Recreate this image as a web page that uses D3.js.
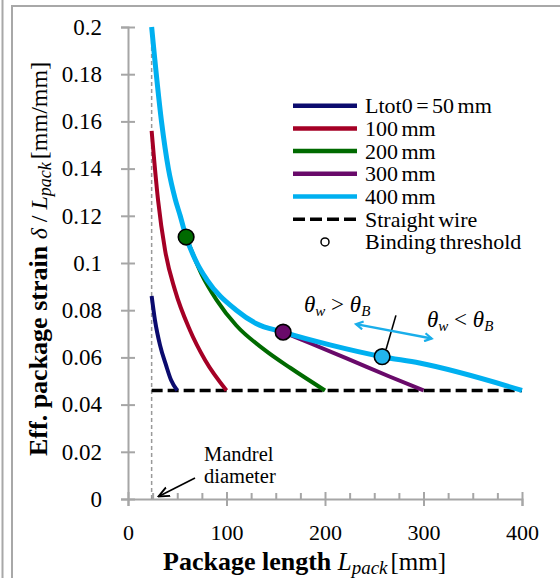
<!DOCTYPE html>
<html><head><meta charset="utf-8">
<script src="https://cdn.jsdelivr.net/npm/d3@7"></script>
<style>
html,body{margin:0;padding:0;background:#fff;}
svg{display:block;font-family:"Liberation Serif","Times New Roman",serif;}
</style></head><body>
<svg id="chart" width="560" height="578"></svg>
<script>
// Effective package strain (delta / L_pack) against package length, per total wire length Ltot0
const mandrelDiameter = 24;      // mm
const straightWireStrain = 0.046; // mm/mm

const len50 = [24, 27.4, 32.5, 38.6, 43.7, 50];
const strain50 = [0.086, 0.0757, 0.0652, 0.0567, 0.0504, 0.046];

const len100 = [24, 30.5, 37.6, 47.7, 62.9, 78.2, 100];
const strain100 = [0.156, 0.1267, 0.1055, 0.0885, 0.0715, 0.0589, 0.046];

const len200 = [59, 75, 90, 110, 139, 165, 200];
const strain200 = [0.111, 0.095, 0.0843, 0.0735, 0.0631, 0.0555, 0.046];

const len300 = [157.5, 185, 222, 266, 300];
const strain300 = [0.0707, 0.066, 0.0596, 0.0518, 0.046];

const len400 = [24, 34, 41, 48, 53, 59, 70, 80, 110, 130, 157.5, 205, 258, 296, 400];
const strain400 = [0.2, 0.16, 0.14, 0.127, 0.12, 0.111, 0.1, 0.093, 0.08, 0.0744, 0.0707, 0.0653, 0.0603, 0.0576, 0.046];

const seriesNames = ["Ltot0 = 50 mm", "100 mm", "200 mm", "300 mm", "400 mm"];
const seriesColors = ["#0b0b6e", "#a50025", "#006a00", "#690a6a", "#00b0f0"];
const seriesWidths = [4, 4, 4, 4, 5];

// Binding threshold points (onset of binding on each curve)
const thresholdLen = [59, 157.5, 258];
const thresholdStrain = [0.111, 0.0707, 0.0603];
const thresholdColors = ["#006a00", "#690a6a", "#22b5ee"];

const xTicks = [0, 100, 200, 300, 400];
const xMinorTicks = [25, 50, 75, 125, 150, 175, 225, 250, 275, 325, 350, 375];
const yTicks = [0, 0.02, 0.04, 0.06, 0.08, 0.1, 0.12, 0.14, 0.16, 0.18, 0.2];
const yTickLabels = ["0", "0.02", "0.04", "0.06", "0.08", "0.1", "0.12", "0.14", "0.16", "0.18", "0.2"];

const svg = d3.select("#chart");
const x = d3.scaleLinear().domain([0, 400]).range([128, 522]);
const y = d3.scaleLinear().domain([0, 0.2]).range([499, 27]);
const axisGray = "#a6a6a6";

// outer frame
svg.append("line").attr("x1", 2.5).attr("x2", 2.5).attr("y1", 0).attr("y2", 578)
  .attr("stroke", "#a8a8a8").attr("stroke-width", 2);
svg.append("path").attr("d", "M12,578V6H560")
  .attr("fill", "none").attr("stroke", "#a8a8a8").attr("stroke-width", 2);

// axes
const yAxis = svg.append("g").attr("transform", `translate(${x(0)},0)`)
  .call(d3.axisLeft(y).tickValues(yTicks).tickSize(7).tickPadding(19)
    .tickFormat((d, i) => yTickLabels[i]));
const xAxis = svg.append("g").attr("transform", `translate(0,${y(0)})`)
  .call(d3.axisBottom(x).tickValues(xTicks).tickSize(7).tickPadding(18));
const xMinor = svg.append("g").attr("transform", `translate(0,${y(0)})`)
  .call(d3.axisBottom(x).tickValues(xMinorTicks).tickSize(-6).tickFormat(""));
[yAxis, xAxis, xMinor].forEach(g => {
  g.select(".domain").attr("stroke", axisGray).attr("stroke-width", 2);
  g.selectAll(".tick line").attr("stroke", axisGray).attr("stroke-width", 2);
  g.selectAll(".tick text").attr("fill", "#000").style("font-size", "23px")
    .style("font-family", '"Liberation Serif", serif');
});
yAxis.selectAll(".tick line").attr("x1", 7).attr("x2", -7);
xAxis.selectAll(".tick line").attr("y1", -7).attr("y2", 7);
xMinor.select(".domain").remove();
xAxis.selectAll(".tick text").style("font-size", "22px").attr("dy", "0.72em");

// mandrel diameter reference line
svg.append("line")
  .attr("x1", x(mandrelDiameter)).attr("x2", x(mandrelDiameter))
  .attr("y1", y(0)).attr("y2", y(0.2))
  .attr("stroke", "#999").attr("stroke-width", 1.5).attr("stroke-dasharray", "4,3");

// straight wire level
svg.append("line")
  .attr("x1", x(mandrelDiameter)).attr("x2", x(400))
  .attr("y1", y(straightWireStrain)).attr("y2", y(straightWireStrain))
  .attr("stroke", "#000").attr("stroke-width", 3.5).attr("stroke-dasharray", "11,5");

// curves
const lens = [len50, len100, len200, len300, len400];
const strains = [strain50, strain100, strain200, strain300, strain400];
const line = d3.line().x(d => x(d[0])).y(d => y(d[1])).curve(d3.curveMonotoneX);
lens.forEach((ls, i) => {
  svg.append("path")
    .datum(ls.map((l, j) => [l, strains[i][j]]))
    .attr("d", line)
    .attr("fill", "none").attr("stroke", seriesColors[i])
    .attr("stroke-width", seriesWidths[i]);
});

// binding threshold markers
svg.selectAll("circle.thr").data(thresholdLen).join("circle").attr("class", "thr")
  .attr("cx", d => x(d)).attr("cy", (d, i) => y(thresholdStrain[i])).attr("r", 7.8)
  .attr("fill", (d, i) => thresholdColors[i]).attr("stroke", "#000").attr("stroke-width", 1.6);

// annotation markers
const defs = svg.append("defs");
defs.append("marker").attr("id", "vhead").attr("viewBox", "0 0 10 10")
  .attr("refX", 8).attr("refY", 5).attr("markerWidth", 10).attr("markerHeight", 10)
  .attr("orient", "auto-start-reverse").attr("markerUnits", "userSpaceOnUse")
  .append("path").attr("d", "M1,1L8,5L1,9").attr("fill", "none")
  .attr("stroke", "#1aaeea").attr("stroke-width", 2.2);
defs.append("marker").attr("id", "blackhead").attr("viewBox", "0 0 10 10")
  .attr("refX", 9).attr("refY", 5).attr("markerWidth", 12).attr("markerHeight", 12)
  .attr("orient", "auto").attr("markerUnits", "userSpaceOnUse")
  .append("path").attr("d", "M0,1L9,5L0,9").attr("fill", "none")
  .attr("stroke", "#000").attr("stroke-width", 1.6);

// pointer from the 400 mm threshold
svg.append("line")
  .attr("x1", x(262)).attr("y1", y(0.0634))
  .attr("x2", x(272)).attr("y2", y(0.0778))
  .attr("stroke", "#000").attr("stroke-width", 1.6);

// double arrow separating the two angle regimes
svg.append("line")
  .attr("x1", x(231.5)).attr("y1", y(0.0741))
  .attr("x2", x(308.3)).attr("y2", y(0.068))
  .attr("stroke", "#1aaeea").attr("stroke-width", 2.4)
  .attr("marker-start", "url(#vhead)").attr("marker-end", "url(#vhead)");

function thetaLabel(px, py, op) {
  const t = svg.append("text").attr("x", px).attr("y", py).style("font-size", "23px");
  t.append("tspan").style("font-style", "italic").text("θ");
  t.append("tspan").style("font-style", "italic").style("font-size", "15px").attr("dy", 4).text("w");
  t.append("tspan").attr("dy", -4).text("  " + op + " ");
  t.append("tspan").style("font-style", "italic").text("θ");
  t.append("tspan").style("font-style", "italic").style("font-size", "15px").attr("dy", 4).text("B");
}
thetaLabel(304, 312, ">");
thetaLabel(427, 327, "<");

// mandrel label and arrow
svg.append("text").attr("x", 204).attr("y", 461).style("font-size", "20.5px").text("Mandrel");
svg.append("text").attr("x", 204).attr("y", 483).style("font-size", "20.5px").text("diameter");
svg.append("line").attr("x1", 195).attr("y1", 478).attr("x2", 158.5).attr("y2", 496.5)
  .attr("stroke", "#000").attr("stroke-width", 1.6).attr("marker-end", "url(#blackhead)");

// legend
const legend = svg.append("g").style("font-size", "22px").style("word-spacing", "-2px");
const rowY = i => 105.7 + i * 22.7;
seriesNames.forEach((name, i) => {
  legend.append("line").attr("x1", 293).attr("x2", 357).attr("y1", rowY(i)).attr("y2", rowY(i))
    .attr("stroke", seriesColors[i]).attr("stroke-width", 4.5);
  legend.append("text").attr("x", 365).attr("y", rowY(i) + 7.5).text(name);
});
legend.append("line").attr("x1", 293).attr("x2", 357).attr("y1", rowY(5)).attr("y2", rowY(5))
  .attr("stroke", "#000").attr("stroke-width", 3.5).attr("stroke-dasharray", "12,5");
legend.append("text").attr("x", 365).attr("y", rowY(5) + 7.5).text("Straight wire");
legend.append("circle").attr("cx", 325).attr("cy", rowY(6)).attr("r", 4)
  .attr("fill", "#fff").attr("stroke", "#000").attr("stroke-width", 1.5);
legend.append("text").attr("x", 365).attr("y", rowY(6) + 7.5).text("Binding threshold");

// axis titles
const xt = svg.append("text").attr("x", 163).attr("y", 570)
  .style("font-size", "25px");
xt.append("tspan").style("font-weight", "bold").style("font-size", "26px").text("Package length ");
xt.append("tspan").style("font-style", "italic").text("L");
xt.append("tspan").style("font-style", "italic").style("font-size", "19px").attr("dy", 4).text("pack");
xt.append("tspan").attr("dy", -4).attr("dx", 3).text("[mm]");

const yt = svg.append("text").attr("transform", "translate(47,456) rotate(-90)")
  .style("font-size", "24px");
yt.append("tspan").style("font-weight", "bold").style("font-size", "26px").text("Eff. package strain ");
yt.append("tspan").style("font-style", "italic").text("δ");
yt.append("tspan").text(" / ");
yt.append("tspan").style("font-style", "italic").text("L");
yt.append("tspan").style("font-style", "italic").style("font-size", "18px").attr("dy", 4).text("pack");
yt.append("tspan").attr("dy", -4).attr("dx", 3).text("[mm/mm]");
</script>
</body></html>
